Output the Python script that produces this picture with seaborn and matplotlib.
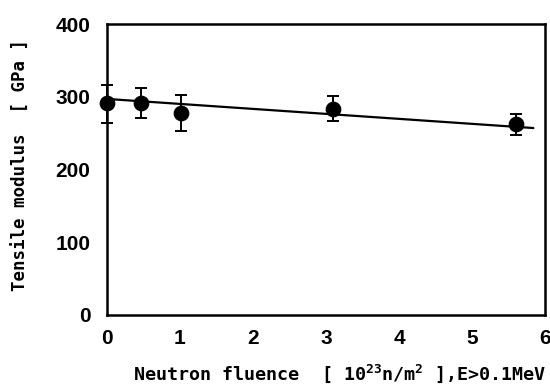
import numpy as np
import pandas as pd
import matplotlib
matplotlib.use('Agg')
import matplotlib.pyplot as plt
import seaborn as sns

fluence = [0.0, 0.47, 1.01, 3.1, 5.6]
modulus = [291, 291, 278, 283, 262]
err_low = [264, 271, 253, 267, 247]
err_high = [316, 312, 303, 301, 276]

fit_x = [0.0, 5.84]
fit_y = [297, 257]

sns.set_style('white')
plt.rcParams['font.family'] = ['DejaVu Sans Mono']
plt.rcParams['font.weight'] = 'bold'
plt.rcParams['mathtext.fontset'] = 'custom'
plt.rcParams['mathtext.rm'] = 'DejaVu Sans Mono:bold'
plt.rcParams['mathtext.default'] = 'rm'
plt.rcParams['text.color'] = 'black'
plt.rcParams['axes.labelcolor'] = 'black'
plt.rcParams['xtick.color'] = 'black'
plt.rcParams['ytick.color'] = 'black'

df = pd.DataFrame({'x': fluence, 'y': modulus})
yerr = np.array([np.array(modulus) - np.array(err_low),
                 np.array(err_high) - np.array(modulus)])

fig = plt.figure(figsize=(5.5, 3.91), dpi=100)
ax = fig.add_axes([0.1945, 0.1944, 0.7965, 0.7442])

sns.lineplot(x=fit_x, y=fit_y, ax=ax, color='black', linewidth=1.6)
ax.errorbar(fluence, modulus, yerr=yerr, fmt='none', ecolor='black',
            elinewidth=1.4, capsize=4, capthick=1.4, clip_on=False, zorder=3)
sns.scatterplot(data=df, x='x', y='y', ax=ax, color='black', s=110,
                edgecolor='black', zorder=4, clip_on=False)

ax.set_xlim(0, 6)
ax.set_ylim(0, 400)
ax.set_xticks(range(0, 7))
ax.set_yticks([0, 100, 200, 300, 400])
ax.tick_params(direction='in', length=4, width=1.5, labelsize=15)
ax.tick_params(axis='x', pad=10)
ax.tick_params(axis='y', pad=12)
for lab in ax.get_xticklabels() + ax.get_yticklabels():
    lab.set_family('Liberation Sans')
    lab.set_fontweight('bold')
for s in ax.spines.values():
    s.set_linewidth(1.8)
    s.set_color('black')

ax.set_xlabel('Neutron fluence  [ 10$^{23}$n/m$^{2}$ ],E>0.1MeV',
              fontsize=13.2, fontweight='bold')
ax.xaxis.set_label_coords(0.53, -0.165)
ax.set_ylabel('Tensile modulus  [ GPa ]', fontsize=12.6, fontweight='bold')
ax.yaxis.set_label_coords(-0.176, 0.515)

fig.savefig('out.png', dpi=100)
